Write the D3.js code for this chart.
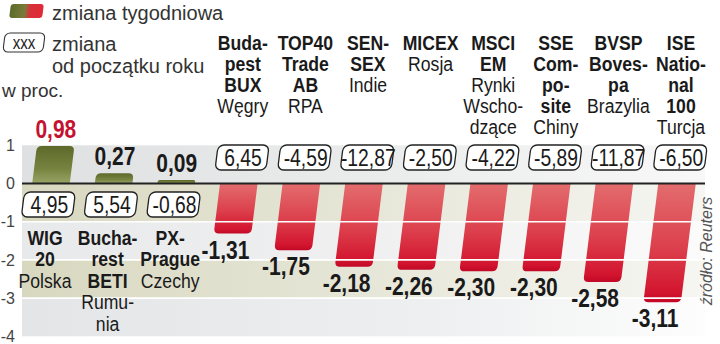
<!DOCTYPE html>
<html><head><meta charset="utf-8">
<script src="https://cdn.jsdelivr.net/npm/d3@7"></script>
<style>
html,body{margin:0;padding:0;background:#fff;}
svg{display:block;}
</style></head>
<body>
<svg id="c" width="720" height="344"></svg>
<script>
// ---- data ----
const indices = ["WIG 20","Bucharest BETI","PX-Prague","Budapest BUX","TOP40 Trade AB","SENSEX","MICEX","MSCI EM","SSE Composite","BVSP Bovespa","ISE National 100"];
const boldLines = [["WIG","20"],["Bucha-","rest","BETI"],["PX-","Prague"],["Buda-","pest","BUX"],["TOP40","Trade","AB"],["SEN-","SEX"],["MICEX"],["MSCI","EM"],["SSE","Com-","po-","site"],["BVSP","Boves-","pa"],["ISE","Natio-","nal","100"]];
const countryLines = [["Polska"],["Rumu-","nia"],["Czechy"],["Węgry"],["RPA"],["Indie"],["Rosja"],["Rynki","Wscho-","dzące"],["Chiny"],["Brazylia"],["Turcja"]];
const weekly = [0.98,0.27,0.09,-1.31,-1.75,-2.18,-2.26,-2.30,-2.30,-2.58,-3.11];
const ytd = [4.95,5.54,-0.68,6.45,-4.59,-12.87,-2.50,-4.22,-5.89,-11.87,-6.50];
const yTicks = [1,0,-1,-2,-3,-4];
const highlight = "WIG 20";

// ---- setup ----
const svg = d3.select("#c");
const SANS = "'Liberation Sans',Arial,sans-serif";
const SX = 0.84; // horizontal condensing of chart lettering
const k = 0.125; // slant
const ang = Math.atan(k)*180/Math.PI;
const x = d3.scalePoint().domain(indices).range([51,677]);
const barW = x.step()*0.6;
const y = d3.scaleLinear().domain([1,-4]).range([145.3,336.3]);
const y0 = y(0);
const plotL = 22, plotR = 705;
const fmt = v => d3.format(".2f")(v).replace(".",",").replace("−","-");

const defs = svg.append("defs");
function lg(id, stops, horiz){
  const g = defs.append("linearGradient").attr("id",id)
    .attr("x1",0).attr("y1",0).attr("x2",horiz?1:0).attr("y2",horiz?0:1);
  stops.forEach(s=>g.append("stop").attr("offset",s[0]).attr("stop-color",s[1]));
}
lg("gGray",[[0,"#dfe0e1"],[0.55,"#ebecec"],[1,"#f8f8f8"]],true);
lg("gBeige",[[0,"#d8d8c0"],[0.5,"#e6e6d8"],[1,"#f6f6f2"]],true);
lg("gLight",[[0,"#e8e9ea"],[0.6,"#f1f1f2"],[1,"#fbfbfb"]],true);
lg("gBottom",[[0,"#e3e5e7"],[0.6,"#eeeff0"],[1,"#fdfdfd"]],true);
lg("gRed",[[0,"#e36d6e"],[0.55,"#dc3f4c"],[0.92,"#d3152f"],[1,"#c10827"]],false);
lg("gGreen",[[0,"#5d692a"],[0.6,"#76833f"],[1,"#98a465"]],false);
lg("gLegend",[[0,"#5b6b2a"],[0.45,"#7a7a3a"],[0.6,"#d8303a"],[1,"#e02a36"]],true);

// condensed text helper
function ctext(parent, cx, base, str, size, bold, fill){
  const g = parent.append("g").attr("transform",`translate(${cx},${base}) scale(${SX},1)`);
  g.append("text").attr("x",0).attr("y",0).attr("text-anchor","middle")
    .attr("font-family",SANS).attr("font-size",size).attr("font-weight",bold?"bold":"normal")
    .attr("fill",fill).text(str);
  return g;
}

// ---- background bands ----
const bandFills = ["url(#gGray)","url(#gBeige)","url(#gLight)","url(#gBeige)","url(#gBottom)"];
svg.append("g").selectAll("rect").data(d3.range(yTicks.length-1)).join("rect")
  .attr("x",plotL).attr("width",plotR-plotL)
  .attr("y",i=>y(yTicks[i])).attr("height",i=>y(yTicks[i+1])-y(yTicks[i]))
  .attr("fill",i=>bandFills[i]);

// ---- y axis ----
const ax = svg.append("g").attr("transform","translate(17,0)")
  .call(d3.axisLeft(y).tickValues(yTicks).tickSize(0).tickPadding(2).tickFormat(d=>String(d)));
ax.select(".domain").remove();
ax.selectAll("text").attr("font-family",SANS).attr("font-size",16).attr("fill","#444");

// ---- bars ----
const skewAbout = yc => `translate(0,${yc}) skewX(${-ang}) translate(0,${-yc})`;
function barPath(d){
  const xc = x(d.name), x0 = xc-barW/2, x1 = xc+barW/2;
  const yb = y(d.v), s = yb>y0?1:-1, r = Math.min(5,Math.abs(yb-y0)/2);
  return `M${x0},${y0}H${x1}V${yb-s*r}Q${x1},${yb} ${x1-r},${yb}H${x0+r}Q${x0},${yb} ${x0},${yb-s*r}Z`;
}
const rows = indices.map((n,i)=>({name:n,v:weekly[i],ytd:ytd[i],bold:boldLines[i],country:countryLines[i]}));
svg.append("g").selectAll("path").data(rows).join("path")
  .attr("d",barPath).attr("transform",skewAbout(y0))
  .attr("fill",d=>d.v<0?"url(#gRed)":"url(#gGreen)");

// white gridlines over bars
svg.append("g").selectAll("line").data(yTicks.filter(t=>t<0&&t>-4)).join("line")
  .attr("x1",plotL).attr("x2",plotR).attr("y1",d=>y(d)).attr("y2",d=>y(d))
  .attr("stroke","#fff").attr("stroke-width",1.6);

// zero line
svg.append("line").attr("x1",plotL).attr("x2",plotR).attr("y1",y0).attr("y2",y0)
  .attr("stroke","#222").attr("stroke-width",2);

// ---- weekly value labels ----
const vl = svg.append("g");
rows.forEach(d=>{
  const base = d.v<0 ? y(d.v)+25 : y(d.v)-8;
  const cx = x(d.name)+k*(y0-(base-9))+(d.v<0?-5:-2);
  ctext(vl, cx, base, fmt(d.v), 25, true, d.name===highlight?"#c41230":"#1a1a1a");
});

// ---- ytd boxes ----
const boxW = 51, boxH = 25;
const bx = svg.append("g");
rows.forEach(d=>{
  const top = d.v<0 ? y0-38.5 : y0+8.5;
  const mid = top+boxH/2;
  const cx = x(d.name)+k*(y0-mid);
  bx.append("rect").attr("x",cx-boxW/2).attr("y",top).attr("width",boxW).attr("height",boxH)
    .attr("rx",6).attr("fill","#fff").attr("stroke","#222").attr("stroke-width",1.3)
    .attr("transform",skewAbout(mid));
  ctext(bx, cx+1, mid+8, fmt(d.ytd), 23, false, "#1a1a1a");
});

// ---- category labels ----
const lb = svg.append("g");
rows.forEach(d=>{
  const above = d.v<0;
  const cx = x(d.name)+(above?4:-6);
  const start = above?50.5:245, step = above?21:21.5;
  const g = lb.append("g").attr("transform",`translate(${cx},0) scale(${SX},1)`);
  const t = g.append("text").attr("font-family",SANS).attr("font-size",21)
    .attr("text-anchor","middle").attr("fill","#1a1a1a");
  const lines = d.bold.map(s=>({s,b:true})).concat(d.country.map(s=>({s,b:false})));
  lines.forEach((l,i)=>{
    t.append("tspan").attr("x",0).attr("y",start+i*step)
      .attr("font-weight",l.b?"bold":"normal").text(l.s);
  });
});

// ---- legend ----
svg.append("rect").attr("x",10).attr("y",4).attr("width",33).attr("height",14).attr("rx",3)
  .attr("fill","url(#gLegend)").attr("transform",skewAbout(11));
svg.append("text").attr("x",52).attr("y",20).attr("font-family",SANS).attr("font-size",20)
  .attr("fill","#333").text("zmiana tygodniowa");
svg.append("rect").attr("x",4).attr("y",33).attr("width",40).attr("height",19).attr("rx",5)
  .attr("fill","#fff").attr("stroke","#333").attr("stroke-width",1.1).attr("transform",skewAbout(42.5));
ctext(svg, 24, 48.5, "xxx", 18, false, "#222");
svg.append("text").attr("x",52).attr("y",51).attr("font-family",SANS).attr("font-size",20)
  .attr("fill","#333").text("zmiana");
svg.append("text").attr("x",52).attr("y",73).attr("font-family",SANS).attr("font-size",20)
  .attr("fill","#333").text("od początku roku");
svg.append("text").attr("x",2).attr("y",97).attr("font-family",SANS).attr("font-size",19)
  .attr("fill","#333").text("w proc.");

// source
svg.append("text").attr("transform","translate(712,251) rotate(-90)").attr("text-anchor","middle")
  .attr("font-family",SANS).attr("font-style","italic").attr("font-size",16).attr("fill","#555")
  .text("źródło: Reuters");
</script>
</body></html>
